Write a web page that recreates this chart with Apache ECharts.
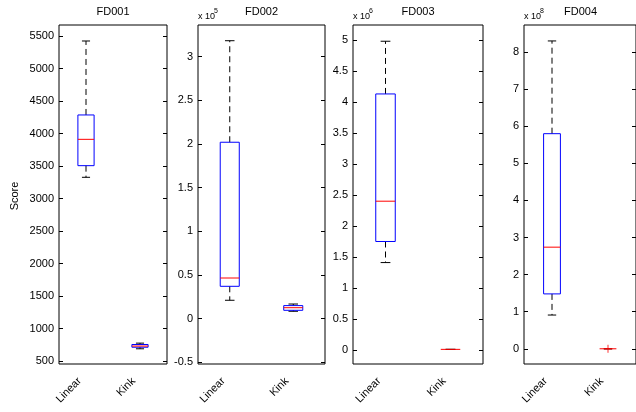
<!DOCTYPE html>
<html>
<head>
<meta charset="utf-8">
<script src="https://cdn.jsdelivr.net/npm/echarts@6/dist/echarts.min.js"></script>
<style>html,body{margin:0;padding:0;background:#fff}#c{width:636px;height:412px}</style>
</head>
<body>
<div id="c"></div>
<script>
// ---- data ----
const panelTitles = ['FD001', 'FD002', 'FD003', 'FD004'];
const categories = ['Linear', 'Kink'];
const exponents = ['', '5', '6', '8'];
// [min, q1, median, q3, max] (in axis units)
const fd001Linear = [3326, 3505, 3910, 4285, 5423];
const fd001Kink = [688, 712, 730, 754, 775];
const fd002Linear = [0.21, 0.37, 0.465, 2.02, 3.183];
const fd002Kink = [0.084, 0.095, 0.125, 0.149, 0.167];
const fd003Linear = [1.41, 1.75, 2.40, 4.13, 4.98];
const fd003Kink = [0.01, 0.01, 0.01, 0.01, 0.01];
const fd004Linear = [0.91, 1.48, 2.74, 5.80, 8.30];
const fd004Kink = [0, 0, 0, 0, 0];
const fd004KinkOutliers = [0];
const ticks1 = [500, 1000, 1500, 2000, 2500, 3000, 3500, 4000, 4500, 5000, 5500];
const ticks2 = [-0.5, 0, 0.5, 1, 1.5, 2, 2.5, 3];
const ticks3 = [0, 0.5, 1, 1.5, 2, 2.5, 3, 3.5, 4, 4.5, 5];
const ticks4 = [0, 1, 2, 3, 4, 5, 6, 7, 8];

// ---- layout ----
const boxes = [[fd001Linear, fd001Kink], [fd002Linear, fd002Kink], [fd003Linear, fd003Kink], [fd004Linear, fd004Kink]];
const outliers = [[[], []], [[], []], [[], []], [[], fd004KinkOutliers]];
const tickSets = [ticks1, ticks2, ticks3, ticks4];
const ranges = [[454, 5669], [-0.52, 3.363], [-0.226, 5.242], [-0.41, 8.73]];
const lefts = [59, 198, 353, 524];
const widths = [108, 127, 130, 113];
const TOP = 25, BOTTOM = 364;
const FONT = 'Liberation Sans, Arial, sans-serif';
const HALF_BOX = 0.15, HALF_CAP = 0.075;

const grid = [], xAxis = [], yAxis = [], series = [], graphic = [];
const catPos = categories.map((c, k) => k + 1);

panelTitles.forEach((t, i) => {
  grid.push({left: lefts[i], top: TOP, width: widths[i], height: BOTTOM - TOP,
    show: true, borderColor: '#000', borderWidth: 1, backgroundColor: '#fff', containLabel: false});
  xAxis.push({type: 'value', gridIndex: i, min: 0.5, max: 2.5,
    axisLine: {show: false}, axisTick: {show: false}, splitLine: {show: false},
    axisLabel: {customValues: catPos, formatter: v => categories[Math.round(v) - 1] || '',
      rotate: 45, margin: 9, padding: [0, 9, 0, 0], fontSize: 11, color: '#000', fontFamily: FONT}});
  yAxis.push({type: 'value', gridIndex: i, min: ranges[i][0], max: ranges[i][1],
    axisLine: {show: false}, splitLine: {show: false},
    axisTick: {show: true, inside: true, length: 4, customValues: tickSets[i], lineStyle: {color: '#000'}},
    axisLabel: {customValues: tickSets[i], formatter: v => String(v), margin: 5, fontSize: 11, color: '#000', fontFamily: FONT}});
  yAxis.push({type: 'value', gridIndex: i, position: 'right', min: ranges[i][0], max: ranges[i][1],
    axisLine: {show: false}, splitLine: {show: false},
    axisTick: {show: true, inside: true, length: 4, customValues: tickSets[i], lineStyle: {color: '#000'}},
    axisLabel: {show: false}});

  const blue = [], red = [], dash = [], caps = [], outs = [];
  boxes[i].forEach((s, k) => {
    const p = catPos[k];
    const [mn, q1, md, q3, mx] = s;
    dash.push([p, q3], [p, mx], '-', [p, q1], [p, mn], '-');
    caps.push([p - HALF_CAP, mx], [p + HALF_CAP, mx], '-', [p - HALF_CAP, mn], [p + HALF_CAP, mn], '-');
    if (q3 > q1) {
      blue.push([p - HALF_BOX, q1], [p + HALF_BOX, q1], [p + HALF_BOX, q3], [p - HALF_BOX, q3], [p - HALF_BOX, q1], '-');
    }
    red.push([p - HALF_BOX, md], [p + HALF_BOX, md], '-');
    outliers[i][k].forEach(o => outs.push([p, o]));
  });
  const common = {type: 'line', xAxisIndex: i, yAxisIndex: 2 * i, showSymbol: false, symbol: 'none',
    connectNulls: false, silent: true, animation: false};
  series.push(Object.assign({}, common, {data: dash, lineStyle: {color: '#000', width: 1, type: [6, 4]}}));
  series.push(Object.assign({}, common, {data: caps, lineStyle: {color: '#000', width: 1}}));
  series.push(Object.assign({}, common, {data: blue, lineStyle: {color: '#0000ff', width: 1}}));
  series.push(Object.assign({}, common, {data: red, lineStyle: {color: '#ff0000', width: 1}}));
  if (outs.length) {
    series.push({type: 'scatter', xAxisIndex: i, yAxisIndex: 2 * i, data: outs, silent: true,
      symbol: 'path://M0,5L10,5M5,0L5,10', symbolSize: 8,
      itemStyle: {color: 'none', borderColor: '#ff0000', borderWidth: 1}, z: 5});
  }
  graphic.push({type: 'text', x: lefts[i] + widths[i] / 2, y: 12,
    style: {text: t, font: '11px ' + FONT, fill: '#000', align: 'center', verticalAlign: 'middle'}});
  if (exponents[i]) {
    graphic.push({type: 'text', x: lefts[i], y: 17,
      style: {text: 'x 10', font: '9px ' + FONT, fill: '#000', align: 'left', verticalAlign: 'middle'}});
    graphic.push({type: 'text', x: lefts[i] + 16, y: 11,
      style: {text: exponents[i], font: '7px ' + FONT, fill: '#000', align: 'left', verticalAlign: 'middle'}});
  }
});
graphic.push({type: 'text', x: 15, y: 196, rotation: Math.PI / 2,
  style: {text: 'Score', font: '11px ' + FONT, fill: '#000', align: 'center', verticalAlign: 'middle'}});

const chart = echarts.init(document.getElementById('c'), null, {renderer: 'canvas'});
chart.setOption({animation: false, backgroundColor: '#fff', grid, xAxis, yAxis, series, graphic});
</script>
</body>
</html>
